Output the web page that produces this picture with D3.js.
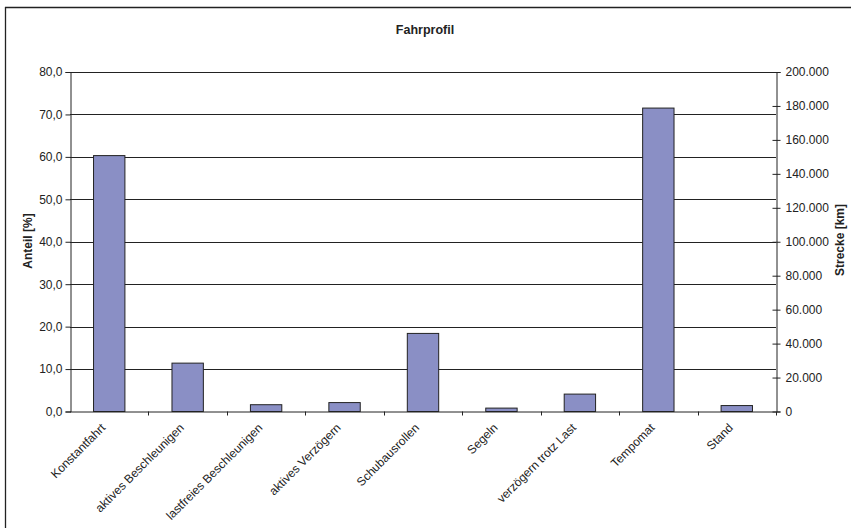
<!DOCTYPE html>
<html><head><meta charset="utf-8">
<script src="https://cdn.jsdelivr.net/npm/d3@7"></script>
<style>
html,body{margin:0;padding:0;background:#fff;overflow:hidden;}
svg{display:block;font-family:"Liberation Sans",Arial,sans-serif;}
</style></head>
<body><svg id="c" width="851" height="528"></svg>
<script>
const categories = ["Konstantfahrt","aktives Beschleunigen","lastfreies Beschleunigen","aktives Verzögern","Schubausrollen","Segeln","verzögern trotz Last","Tempomat","Stand"];
const anteil = [60.3, 11.4, 1.6, 2.1, 18.4, 0.8, 4.1, 71.5, 1.4];
const leftTicks = [0,10,20,30,40,50,60,70,80];
const rightTicks = [0,20000,40000,60000,80000,100000,120000,140000,160000,180000,200000];

const svg = d3.select("#c");
const L = 70, R = 776, T = 72, B = 411.5;
const de = d3.formatLocale({decimal:",", thousands:".", grouping:[3], currency:["","€"]});
const fL = de.format(".1f"), fR = de.format(",d");

// chart border (top and left edges visible)
svg.append("line").attr("x1",5).attr("x2",851).attr("y1",7.5).attr("y2",7.5).attr("stroke","#222").attr("stroke-width",1.3);
svg.append("line").attr("x1",5.5).attr("x2",5.5).attr("y1",7).attr("y2",528).attr("stroke","#222").attr("stroke-width",1.3);

const x = d3.scaleBand().domain(categories).range([L,R]).paddingInner(0.6).paddingOuter(0.3);
const yL = d3.scaleLinear().domain([0,80]).range([B,T]);
const yR = d3.scaleLinear().domain([0,200000]).range([B,T]);

// gridlines
svg.append("g").selectAll("line").data(leftTicks.filter(d=>d>0)).join("line")
  .attr("x1",L).attr("x2",R).attr("y1",d=>Math.round(yL(d))+0.5).attr("y2",d=>Math.round(yL(d))+0.5)
  .attr("stroke","#222").attr("stroke-width",1);

// bars
svg.append("g").selectAll("rect").data(categories).join("rect")
  .attr("x",d=>x(d)).attr("width",x.bandwidth())
  .attr("y",(d,i)=>yL(anteil[i])).attr("height",(d,i)=>B-yL(anteil[i]))
  .attr("fill","#8a8fc5").attr("stroke","#222").attr("stroke-width",1);

// left axis
const gl = svg.append("g").attr("transform",`translate(${L+0.5},0)`)
  .call(d3.axisLeft(yL).tickValues(leftTicks).tickFormat(fL).tickSize(5).tickPadding(3));
// right axis
const gr = svg.append("g").attr("transform",`translate(${R+0.5},0)`)
  .call(d3.axisRight(yR).tickValues(rightTicks).tickFormat(fR).tickSize(4).tickPadding(5));
gr.selectAll(".tick line").attr("x1",-4);
// bottom axis
const step = x.step();
const boundaries = d3.range(1, categories.length+1).map(i => L + i*step);
const gb = svg.append("g");
gb.append("line").attr("x1",L).attr("x2",R).attr("y1",B+0.5).attr("y2",B+0.5).attr("stroke","#222");
gb.selectAll("line.t").data(boundaries).join("line").attr("class","t")
  .attr("x1",d=>Math.round(d)+0.5).attr("x2",d=>Math.round(d)+0.5).attr("y1",B).attr("y2",B+4).attr("stroke","#222");

[gl,gr].forEach(g=>{
  g.selectAll(".domain").attr("stroke","#222");
  g.selectAll(".tick line").attr("stroke","#222");
  g.selectAll(".tick text").attr("fill","#222").style("font-size","12px").style("font-family","Liberation Sans, Arial, sans-serif");
});

// x labels
svg.append("g").selectAll("text").data(categories).join("text")
  .attr("transform",d=>`translate(${x(d)+x.bandwidth()/2-3},${B+17}) rotate(-45)`)
  .attr("text-anchor","end").attr("fill","#222").style("font-size","12px").text(d=>d);

// titles
svg.append("text").attr("x",425).attr("y",34).attr("text-anchor","middle")
  .style("font-size","12.5px").style("font-weight","bold").attr("fill","#222").text("Fahrprofil");
svg.append("text").attr("transform","translate(32,241) rotate(-90)").attr("text-anchor","middle")
  .style("font-size","12px").style("font-weight","bold").attr("fill","#222").text("Anteil [%]");
svg.append("text").attr("transform","translate(844,240) rotate(-90)").attr("text-anchor","middle")
  .style("font-size","12px").style("font-weight","bold").attr("fill","#222").text("Strecke [km]");
</script></body></html>
